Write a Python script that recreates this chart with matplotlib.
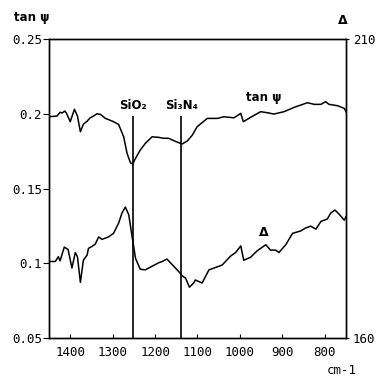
"""
Ellipsometric spectrum: tan psi and Delta vs wavenumber, with SiO2 / Si3N4 bands marked.
"""
import matplotlib
matplotlib.use("Agg")
import matplotlib.pyplot as plt

# wavenumber (cm-1) and tan psi
nu_psi = [1450, 1431, 1424, 1419, 1413, 1409, 1400, 1390, 1383, 1376, 1369, 1360,
          1353, 1345, 1337, 1329, 1317, 1301, 1286, 1274, 1266, 1258, 1253, 1246,
          1235, 1223, 1207, 1191, 1180, 1168, 1156, 1144, 1136, 1124, 1112, 1101,
          1077, 1053, 1038, 1014, 998, 992, 975, 951, 935, 920, 896, 872, 841,
          825, 809, 798, 790, 770, 754, 750]
tan_psi = [0.198, 0.1985, 0.201, 0.2005, 0.2018, 0.2005, 0.1947, 0.203, 0.1985,
           0.188, 0.193, 0.1951, 0.1973, 0.1985, 0.200, 0.1996, 0.1969, 0.1951,
           0.1929, 0.1846, 0.1735, 0.1672, 0.1664, 0.1702, 0.1757, 0.1802, 0.1846,
           0.1842, 0.1836, 0.1836, 0.182, 0.1806, 0.1798, 0.1818, 0.1858, 0.1913,
           0.1969, 0.1969, 0.198, 0.1973, 0.2003, 0.1947, 0.1976, 0.2014, 0.2007,
           0.1998, 0.2014, 0.2043, 0.2074, 0.2063, 0.2063, 0.2081, 0.2063, 0.2054,
           0.2036, 0.2014]

# wavenumber (cm-1) and Delta (deg)
nu_delta = [1450, 1435, 1428, 1424, 1414, 1405, 1396, 1388, 1383, 1376, 1369, 1360,
            1357, 1349, 1341, 1333, 1325, 1310, 1298, 1286, 1278, 1270, 1262, 1254,
            1246, 1235, 1223, 1207, 1191, 1183, 1172, 1156, 1144, 1136, 1128, 1119,
            1109, 1105, 1089, 1073, 1057, 1042, 1022, 1010, 998, 991, 975, 959, 939,
            928, 916, 908, 892, 876, 857, 845, 833, 821, 809, 794, 786, 776, 766,
            754, 750]
delta = [172.8, 172.8, 173.6, 172.9, 175.2, 174.8, 171.7, 174.3, 173.6, 169.3,
         173.0, 173.9, 175.0, 175.3, 175.7, 176.9, 176.5, 176.9, 177.5, 179.2,
         180.9, 181.9, 180.6, 176.9, 173.3, 171.5, 171.4, 172.0, 172.6, 172.8,
         173.2, 172.0, 171.1, 170.4, 170.0, 168.5, 169.2, 169.7, 169.2, 171.4,
         171.8, 172.2, 173.7, 174.3, 175.4, 173.0, 173.5, 174.6, 175.6, 174.7,
         174.7, 174.3, 175.6, 177.5, 177.9, 178.4, 178.7, 178.2, 179.5, 179.9,
         180.9, 181.4, 180.7, 179.7, 180.3]

bands = [1251, 1138]
band_labels = ["SiO₂", "Si₃N₄"]

psi_ticks = [0.05, 0.1, 0.15, 0.2, 0.25]
psi_ticklabels = ["0.05", "0.1", "0.15", "0.2", "0.25"]
nu_ticks = [1400, 1300, 1200, 1100, 1000, 900, 800]

MONO = "DejaVu Sans Mono"

fig = plt.figure(figsize=(3.79, 3.80), dpi=100)
ax = fig.add_axes([0.1293, 0.1105, 0.7836, 0.7868])
ax2 = ax.twinx()

ax.plot(nu_psi, tan_psi, color="black", lw=1.1)
ax2.plot(nu_delta, delta, color="black", lw=1.1)

# band markers
for x, lbl in zip(bands, band_labels):
    ax.vlines(x, 0.05, 0.1985, color="black", lw=1.2)
    ax.text(x, 0.2012, lbl, ha="center", va="bottom", fontsize=8.5,
            fontweight="bold")

ax.text(944, 0.2112, "tan ψ", ha="center", va="center", fontsize=8.5,
        fontweight="bold")
ax2.text(943, 177.7, "Δ", ha="center", va="center", fontsize=9,
         fontweight="bold")

ax.set_xlim(1450, 750)
ax.set_ylim(0.05, 0.25)
ax2.set_ylim(160, 210)

ax.set_xticks(nu_ticks)
ax.set_yticks(psi_ticks)
ax.set_yticklabels(psi_ticklabels)
ax2.set_yticks([160, 210])

for lab in ax.get_xticklabels() + ax.get_yticklabels() + ax2.get_yticklabels():
    lab.set_fontfamily(MONO)
    lab.set_fontsize(9)

ax.tick_params(axis="x", direction="in", length=3, width=0.8, pad=6)
ax.tick_params(axis="y", direction="out", length=4, width=0.8, pad=1)
ax2.tick_params(axis="y", direction="out", length=2, width=0.8, pad=3)

for a in (ax, ax2):
    for s in a.spines.values():
        s.set_linewidth(1.0)

fig.text(32 / 379, 1 - 18 / 380, "tan ψ", ha="center", va="center",
         fontsize=8.5, fontweight="bold")
fig.text(343 / 379, 1 - 20 / 380, "Δ", ha="center", va="center",
         fontsize=9, fontweight="bold")
fig.text(342 / 379, 1 - 371 / 380, "cm-1", ha="center", va="center",
         fontsize=9, family=MONO)

fig.savefig("out.png", dpi=100)
